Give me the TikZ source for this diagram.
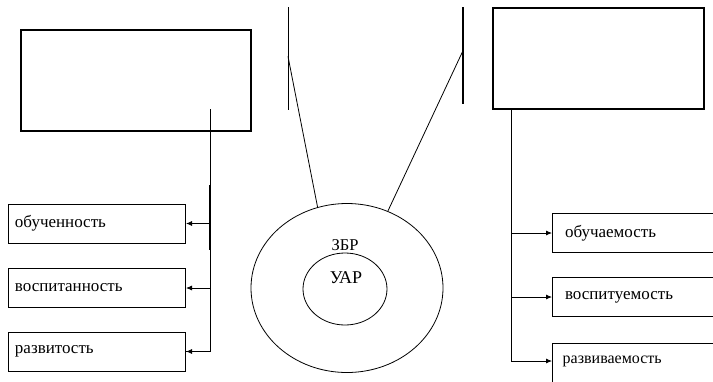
\documentclass[tikz,border=0pt]{standalone}
\usepackage{fontspec}
\setmainfont{Liberation Serif}
\usetikzlibrary{arrows.meta,positioning,calc,shapes.geometric}

\begin{document}
\begin{tikzpicture}[x=1pt,y=-1pt,>={Latex[length=6pt,width=5pt]},line width=0.8pt,
 bigbox/.style={draw,line width=1.2pt,minimum width=230pt,minimum height=101pt,inner sep=0pt},
 qbox/.style={draw,line width=1pt,anchor=west,minimum width=177pt,minimum height=39pt,text width=170pt,inner sep=0pt,align=left,font=\fontsize{17}{19}\selectfont},
 ring/.style={draw,ellipse,line width=0.8pt,inner sep=0pt}]
\useasboundingbox (0,0) rectangle (713,381);
% upper boxes
\node[bigbox] (lb) at (136,80.5) {};
\node[bigbox,minimum width=211pt] (rb) at (598.5,58.5) {};
% left column
\node[qbox] (o1) at (8,223.5) {\hspace*{3pt}обученность};
\node[qbox] (o2) at (8,288) {\hspace*{3pt}воспитанность};
\node[qbox] (o3) at (8,351.5) {\hspace*{3pt}развитость};
% right column
\node[qbox] (p1) at (552,233) {\hspace*{9pt}обучаемость};
\node[qbox] (p2) at (552,297) {\hspace*{9pt}воспитуемость};
\node[qbox,minimum height=50pt] (p3) at (552,368) {};
\node[anchor=west,font=\fontsize{16}{18}\selectfont] (p3t) at (559,361) {развиваемость};
% rings
\node[ring,minimum width=192pt,minimum height=169pt] (zbr) at (347,288) {};
\node[ring,minimum width=84pt,minimum height=72pt] (uar) at (345,289) {};
\node[font=\fontsize{16.5}{18}\selectfont] (zbrt) at (345,245) {ЗБР};
\node[font=\fontsize{18}{20}\selectfont] (uart) at (346,278) {УАР};
% bars above the rings
\coordinate (lbt) at (288,7);
\coordinate (lbb) at (288,110);
\coordinate (rbt) at (463,7);
\coordinate (rbb) at (463,104);
\draw (lbt) -- (lbb);
\draw[line width=1.3pt] (rbt) -- (rbb);
\draw ($(lbt)!0.48!(lbb)$) -- (zbr.110);
\draw ($(rbt)!0.45!(rbb)$) -- (zbr.62);
% left trunk
\coordinate (lt) at (210,109);
\draw (lt) -- (lt |- o3.east) -- (o3.east);
\draw[line width=1.8pt] (210,185) -- (210,250);
\foreach \q in {o1,o2,o3} \draw[->] (lt |- \q.east) -- (\q.east);
% right trunk
\coordinate (rt) at (511,109);
\draw (rt) -- (rt |- p3t.west);
\foreach \q in {p1,p2} \draw[->] (rt |- \q.west) -- (\q.west);
\draw[->] (rt |- p3t.west) -- (p3.west |- p3t.west);
\end{tikzpicture}
\end{document}
